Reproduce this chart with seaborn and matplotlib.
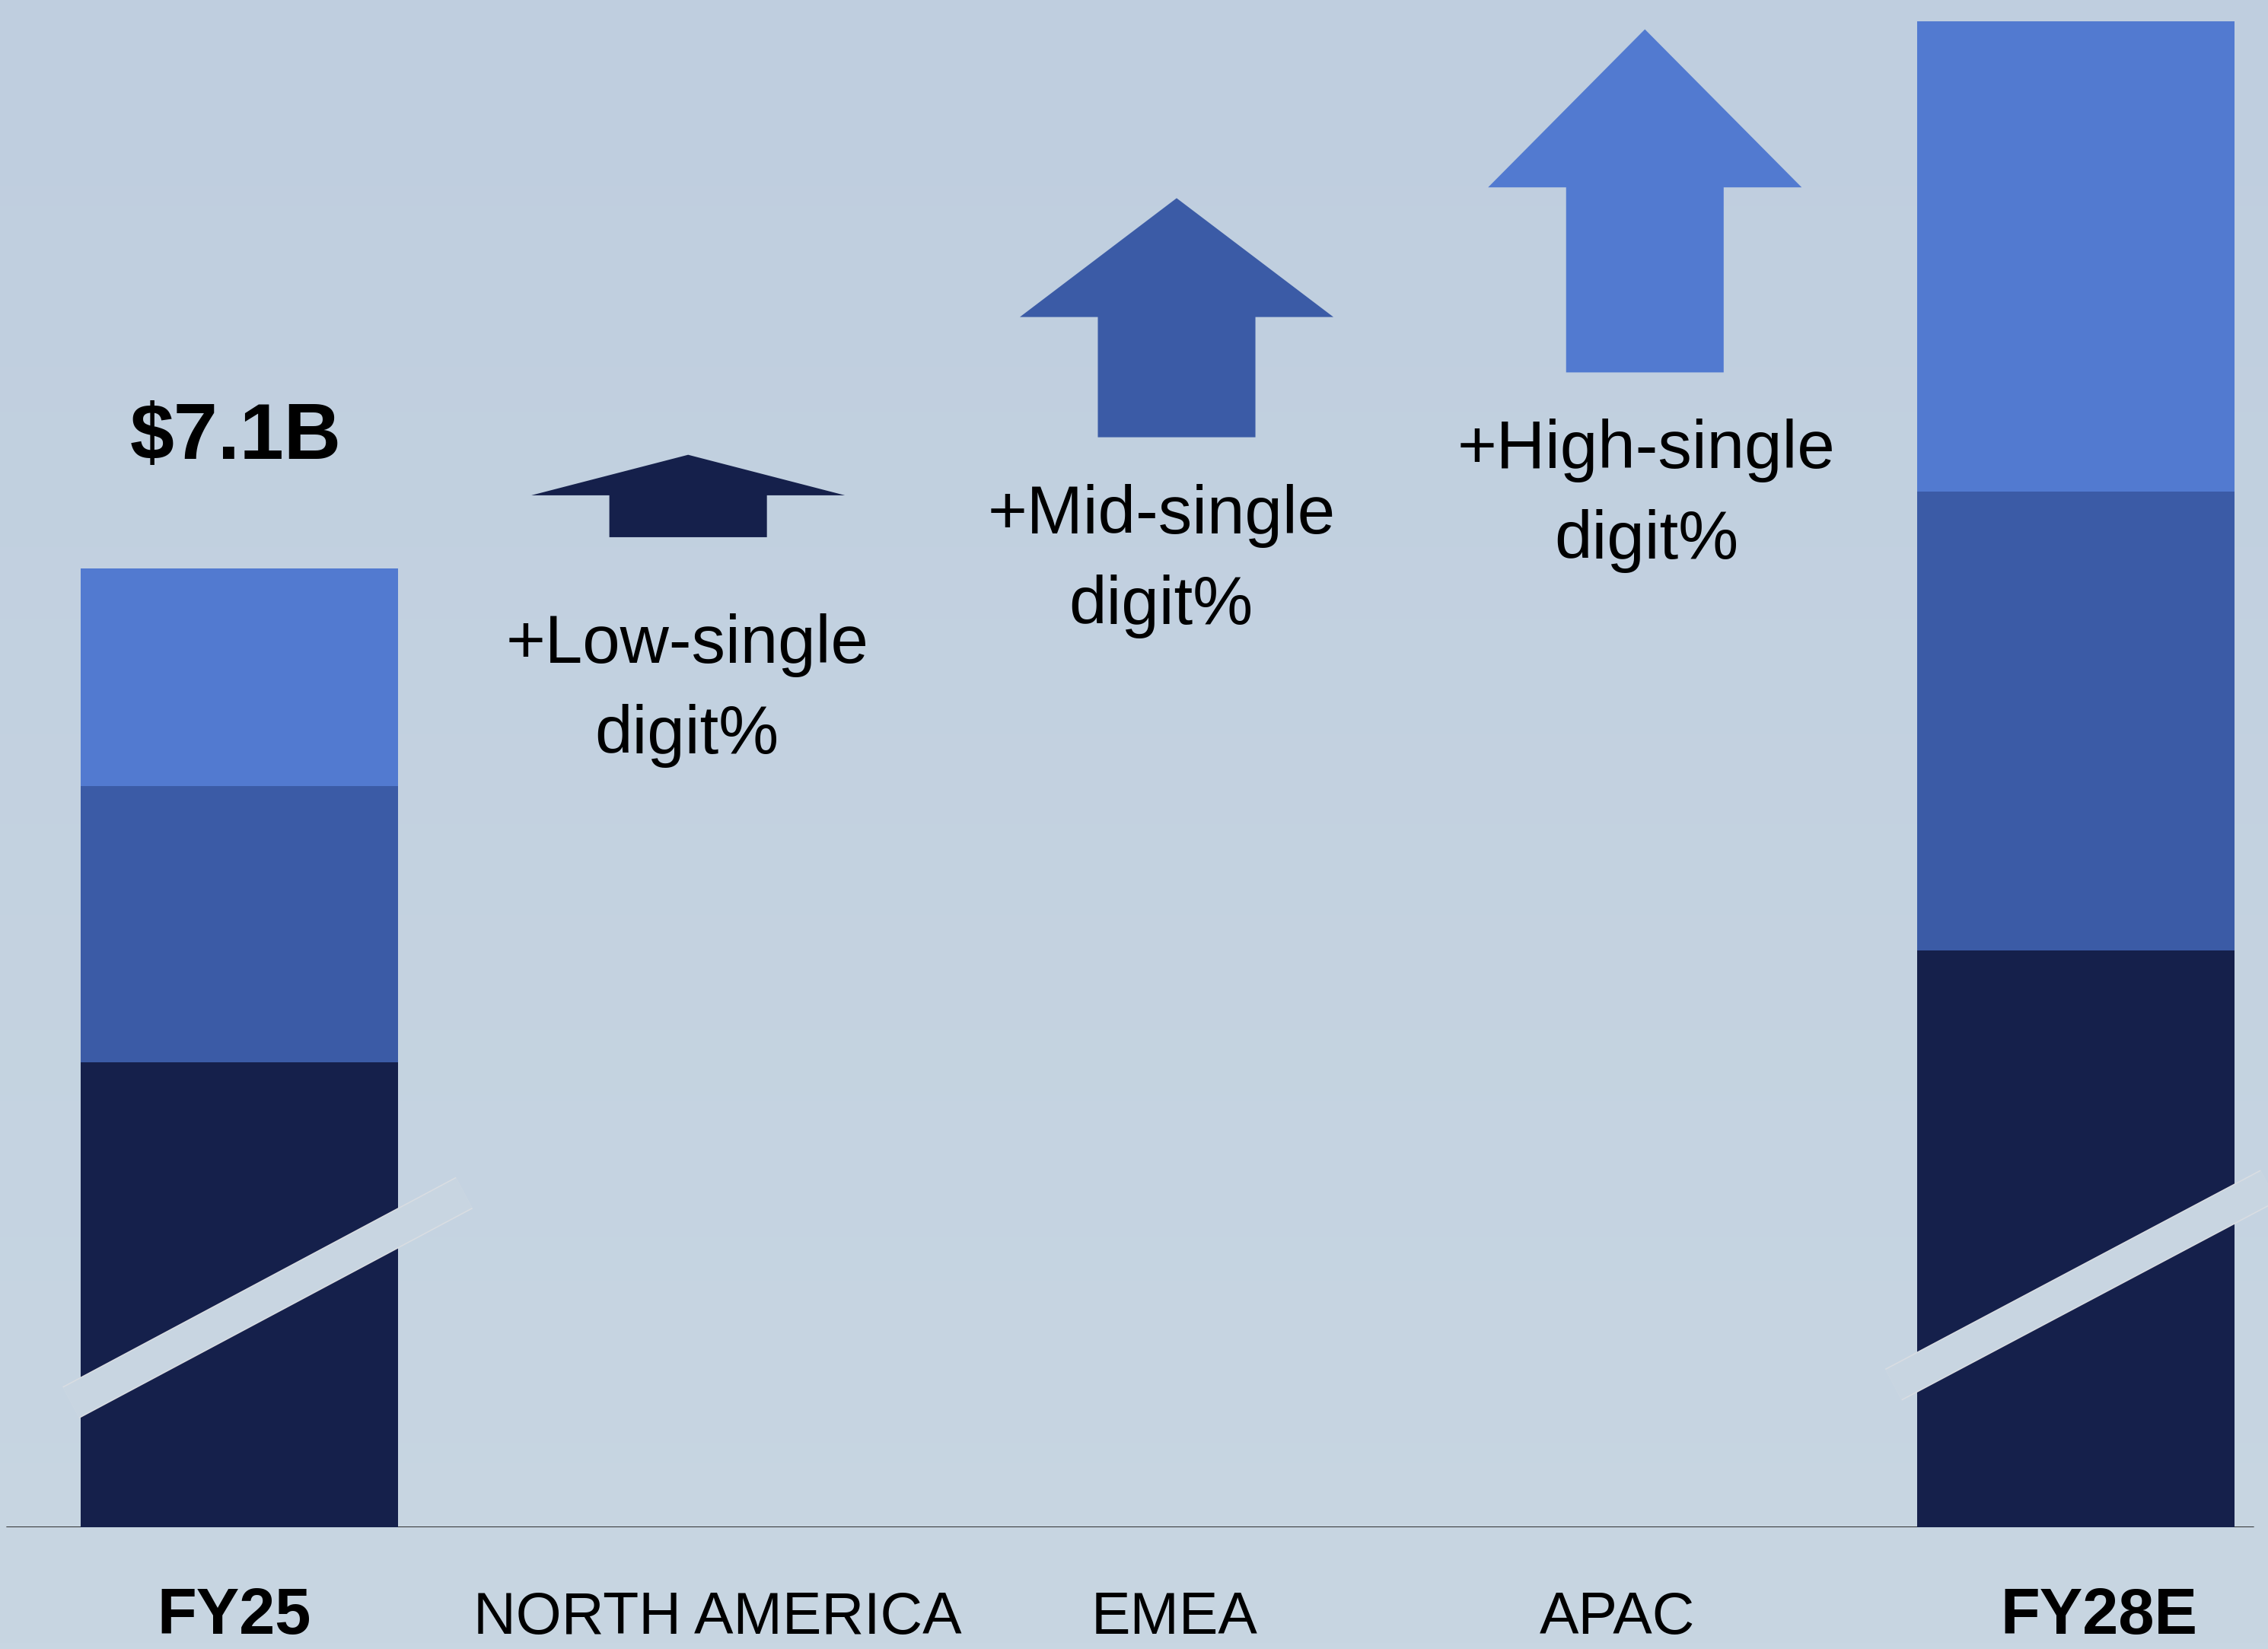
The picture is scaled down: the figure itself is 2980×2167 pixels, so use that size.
import numpy as np
import pandas as pd
import matplotlib
matplotlib.use("Agg")
import matplotlib.pyplot as plt
import matplotlib.patheffects as pe
import seaborn as sns

# ---------------- data ----------------
categories = ["FY25", "NORTH AMERICA", "EMEA", "APAC", "FY28E"]
bold_categories = ["FY25", "FY28E"]
# stacked segment heights (bottom -> top) ($B-scaled, broken axis)
north_america = [3.44, 0, 0, 0, 4.27]
emea = [2.05, 0, 0, 0, 3.40]
apac = [1.61, 0, 0, 0, 3.48]
total_label = "$7.1B"

# growth arrows for the three middle categories
arrow_categories = ["NORTH AMERICA", "EMEA", "APAC"]
arrow_base = [7.33, 8.07, 8.55]
arrow_head_base = [7.64, 8.96, 9.92]
arrow_tip = [7.94, 9.84, 11.09]
growth_labels = [["+Low-single", "digit%"],
                 ["+Mid-single", "digit%"],
                 ["+High-single", "digit%"]]

# ---------------- style ----------------
c_dark = "#15204b"
c_mid = "#3b5ba6"
c_light = "#527ad0"
arrow_colors = [c_dark, c_mid, c_light]
bg_top = "#bfcedf"
bg_bot = "#c8d6e2"

sns.set_style("white")
plt.rcParams["font.family"] = ["Liberation Sans", "DejaVu Sans"]

fig = plt.figure(figsize=(29.8, 21.67), dpi=100)

# background gradient
bg = fig.add_axes([0, 0, 1, 1], zorder=-5)
top_rgb = np.array(matplotlib.colors.to_rgb(bg_top))
bot_rgb = np.array(matplotlib.colors.to_rgb(bg_bot))
t = np.linspace(0, 1, 256)[:, None, None]
grad = top_rgb * (1 - t) + bot_rgb * t
grad = np.repeat(grad, 4, axis=1)
bg.imshow(grad, aspect="auto", extent=[0, 1, 0, 1])
bg.axis("off")

ax = fig.add_axes([0, 0.0738, 1, 0.9262])
ax.set_facecolor("none")

df = pd.DataFrame({"category": categories,
                   "na": north_america, "emea": emea, "apac": apac})
df["l1"] = df["na"]
df["l2"] = df["na"] + df["emea"]
df["l3"] = df["l2"] + df["apac"]

for col, colr in [("l3", c_light), ("l2", c_mid), ("l1", c_dark)]:
    sns.barplot(data=df, x="category", y=col, order=categories, color=colr,
                saturation=1, width=0.69, linewidth=0, ax=ax, zorder=3)

ax.set_xlim(-0.5213, 4.4186)
ax.set_ylim(0, 11.307)
ax.axis("off")

# baseline
ax.axhline(0, xmin=0.003, xmax=0.9935, color="#222222", lw=1.3, zorder=1)

# total label above FY25
tot25 = df.loc[0, "l3"]
ax.text(0 - 0.008, tot25 + 0.81, total_label, ha="center", va="baseline",
        fontsize=75, fontweight="bold", color="#000000")

# category labels
cat_offsets = [-0.011, 0.041, 0.037, 0.002, 0.05]
for i, c in enumerate(categories):
    ax.text(i + cat_offsets[i], -0.79, c, ha="center", va="baseline",
            fontsize=61 if c in bold_categories else 55.5,
            fontweight="bold" if c in bold_categories else "normal",
            color="#000000", clip_on=False)

# growth arrows
arrow_offsets = [-0.0225, 0.0415, 0.0614]
head_hw = 0.3415
shaft_hw = 0.1716
for k, cat in enumerate(arrow_categories):
    xc = categories.index(cat) + arrow_offsets[k]
    b, hb, tp = arrow_base[k], arrow_head_base[k], arrow_tip[k]
    xs = [xc - shaft_hw, xc - shaft_hw, xc - head_hw, xc, xc + head_hw,
          xc + shaft_hw, xc + shaft_hw]
    ys = [b, hb, hb, tp, hb, hb, b]
    ax.fill(xs, ys, color=arrow_colors[k], lw=0, zorder=4)

# growth labels
label_offsets = [-0.025, 0.008, 0.064]
label_baseline = [6.40, 7.36, 7.84]
line_gap = 0.67
for k, cat in enumerate(arrow_categories):
    xc = categories.index(cat) + label_offsets[k]
    for j, line in enumerate(growth_labels[k]):
        ax.text(xc, label_baseline[k] - j * line_gap, line, ha="center",
                va="baseline", fontsize=64, color="#000000")

# axis-break bands
band_color = "#c8d5e1"
band_edge = "#d9dde2"
for (x0, y0, x1, y1) in [(-0.3667, 0.924, 0.4898, 2.476),
                         (3.6029, 1.056, 4.551, 2.764)]:
    ax.plot([x0, x1], [y0, y1], color=band_color, lw=31.7,
            solid_capstyle="butt", zorder=6, clip_on=False,
            path_effects=[pe.Stroke(linewidth=34, foreground=band_edge),
                          pe.Normal()])

fig.savefig("out.png", dpi=100)
